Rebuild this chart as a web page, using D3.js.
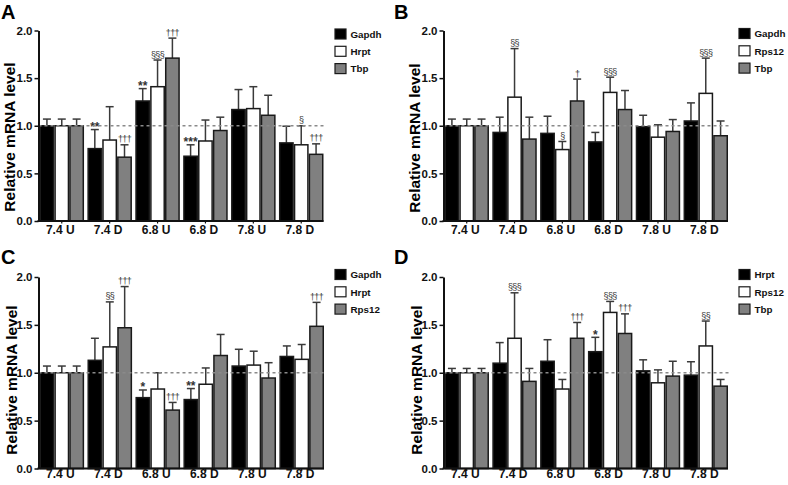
<!DOCTYPE html>
<html><head><meta charset="utf-8">
<script src="https://cdn.jsdelivr.net/npm/d3@7"></script>
<style>
body{margin:0;background:#fff;}
svg{display:block;font-family:"Liberation Sans",Arial,Helvetica,sans-serif;}
</style></head>
<body><svg id="chart" width="788" height="485"></svg>
<script>
// ---------- DATA ----------
const categories = ["7.4 U","7.4 D","6.8 U","6.8 D","7.8 U","7.8 D"];
const yTicks = [0, 0.5, 1.0, 1.5, 2.0];
const yLabel = "Relative mRNA level";

// Panel A
const aNames = ["Gapdh","Hrpt","Tbp"];
const aGapdh = [1.00, 0.76, 1.26, 0.68, 1.17, 0.82];
const aGapdhSem = [0.07, 0.20, 0.13, 0.12, 0.21, 0.175];
const aHrpt = [1.00, 0.85, 1.41, 0.84, 1.18, 0.80];
const aHrptSem = [0.07, 0.35, 0.28, 0.22, 0.23, 0.20];
const aTbp = [1.00, 0.67, 1.71, 0.95, 1.11, 0.70];
const aTbpSem = [0.07, 0.13, 0.21, 0.14, 0.21, 0.11];
const aGapdhSig = ["", "**", "**", "***", "", ""];
const aHrptSig = ["", "", "§§§", "", "", "§"];
const aTbpSig = ["", "†††", "†††", "", "", "†††"];

// Panel B
const bNames = ["Gapdh","Rps12","Tbp"];
const bGapdh = [1.00, 0.93, 0.92, 0.83, 0.99, 1.05];
const bGapdhSem = [0.07, 0.16, 0.18, 0.10, 0.12, 0.19];
const bRps12 = [1.00, 1.30, 0.75, 1.35, 0.88, 1.34];
const bRps12Sem = [0.07, 0.51, 0.085, 0.16, 0.13, 0.37];
const bTbp = [1.00, 0.86, 1.26, 1.17, 0.94, 0.895];
const bTbpSem = [0.07, 0.23, 0.23, 0.20, 0.125, 0.155];
const bGapdhSig = ["", "", "", "", "", ""];
const bRps12Sig = ["", "§§", "§", "§§§", "", "§§§"];
const bTbpSig = ["", "", "†", "", "", ""];

// Panel C
const cNames = ["Gapdh","Hrpt","Rps12"];
const cGapdh = [1.00, 1.13, 0.74, 0.72, 1.07, 1.17];
const cGapdhSem = [0.07, 0.23, 0.08, 0.115, 0.175, 0.11];
const cHrpt = [1.00, 1.27, 0.83, 0.88, 1.08, 1.14];
const cHrptSem = [0.07, 0.47, 0.17, 0.17, 0.145, 0.155];
const cRps12 = [1.00, 1.47, 0.61, 1.18, 0.945, 1.485];
const cRps12Sem = [0.07, 0.43, 0.08, 0.22, 0.16, 0.25];
const cGapdhSig = ["", "", "*", "**", "", ""];
const cHrptSig = ["", "§§", "", "", "", ""];
const cRps12Sig = ["", "†††", "†††", "", "", "†††"];

// Panel D
const dNames = ["Hrpt","Rps12","Tbp"];
const dHrpt = [1.00, 1.10, 1.12, 1.22, 1.02, 0.975];
const dHrptSem = [0.045, 0.215, 0.225, 0.15, 0.115, 0.14];
const dRps12 = [1.00, 1.36, 0.83, 1.63, 0.895, 1.28];
const dRps12Sem = [0.045, 0.475, 0.10, 0.115, 0.135, 0.26];
const dTbp = [1.00, 0.91, 1.36, 1.41, 0.965, 0.86];
const dTbpSem = [0.045, 0.135, 0.165, 0.205, 0.155, 0.07];
const dHrptSig = ["", "", "", "*", "", ""];
const dRps12Sig = ["", "§§§", "", "§§§", "", "§§"];
const dTbpSig = ["", "", "†††", "†††", "", ""];

// ---------- LAYOUT ----------
const fills = ["#000000", "#ffffff", "#808080"];
const panels = [
  {letter:"A", lx:1, ly:19, axisX:38.5, xL:39.5, xR:323.5, yTop:30.5, yBot:221, legX:335, legY:34, titleX:15, titleY:137, catY:234,
   names:aNames, means:[aGapdh,aHrpt,aTbp], sems:[aGapdhSem,aHrptSem,aTbpSem], sig:[aGapdhSig,aHrptSig,aTbpSig]},
  {letter:"B", lx:394, ly:19, axisX:443.5, xL:444.5, xR:728, yTop:30.5, yBot:221, legX:739, legY:33.5, titleX:420, titleY:138, catY:234,
   names:bNames, means:[bGapdh,bRps12,bTbp], sems:[bGapdhSem,bRps12Sem,bTbpSem], sig:[bGapdhSig,bRps12Sig,bTbpSig]},
  {letter:"C", lx:1, ly:264, axisX:38.5, xL:39.5, xR:324, yTop:277, yBot:468.5, legX:335, legY:274.5, titleX:16.5, titleY:380, catY:478,
   names:cNames, means:[cGapdh,cHrpt,cRps12], sems:[cGapdhSem,cHrptSem,cRps12Sem], sig:[cGapdhSig,cHrptSig,cRps12Sig]},
  {letter:"D", lx:394, ly:264, axisX:443.5, xL:444.5, xR:728, yTop:277, yBot:468.5, legX:739, legY:274.5, titleX:422, titleY:380, catY:478,
   names:dNames, means:[dHrpt,dRps12,dTbp], sems:[dHrptSem,dRps12Sem,dTbpSem], sig:[dHrptSig,dRps12Sig,dTbpSig]}
];

const svg = d3.select("#chart");

panels.forEach(p => {
  const g = svg.append("g");
  const y = d3.scaleLinear().domain([0, 2]).range([p.yBot, p.yTop]);
  const x0 = d3.scaleBand().domain(categories).range([p.xL, p.xR]).paddingInner(0.07).paddingOuter(0);
  const x1 = d3.scaleBand().domain(d3.range(p.names.length)).range([0, x0.bandwidth()]).padding(0);

  // panel letter
  g.append("text").attr("x", p.lx).attr("y", p.ly).attr("font-size", 20).attr("font-weight", "bold").text(p.letter);

  // y title
  g.append("text")
    .attr("transform", `translate(${p.titleX},${p.titleY}) rotate(-90)`)
    .attr("text-anchor", "middle").attr("font-size", 15.5).attr("font-weight", "bold")
    .text(yLabel);

  const data = [];
  categories.forEach((c, ci) => {
    p.names.forEach((n, si) => {
      data.push({c, si, v: p.means[si][ci], e: p.sems[si][ci], s: p.sig[si][ci]});
    });
  });

  // error bars (upper only)
  const eb = g.append("g").attr("stroke", "#3a3a3a").attr("stroke-width", 1.5).attr("fill", "none");
  data.forEach(d => {
    const cx = x0(d.c) + x1(d.si) + x1.bandwidth() / 2;
    eb.append("line").attr("x1", cx).attr("x2", cx).attr("y1", y(d.v)).attr("y2", y(d.v + d.e));
    eb.append("line").attr("x1", cx - 4).attr("x2", cx + 4).attr("y1", y(d.v + d.e)).attr("y2", y(d.v + d.e));
  });

  g.append("g").selectAll("rect").data(data).join("rect")
    .attr("x", d => x0(d.c) + x1(d.si) + 0.75)
    .attr("width", x1.bandwidth() - 1.5)
    .attr("y", d => y(d.v))
    .attr("height", d => y(0) - y(d.v))
    .attr("fill", d => fills[d.si])
    .attr("stroke", "#1a1a1a").attr("stroke-width", 1.5);

  // significance marks
  g.append("g").selectAll("text").data(data.filter(d => d.s)).join("text")
    .attr("x", d => x0(d.c) + x1(d.si) + x1.bandwidth() / 2)
    .attr("y", d => y(d.v + d.e) - (d.s[0] === "*" ? -1.5 : 2.5))
    .attr("text-anchor", "middle")
    .attr("font-size", d => d.s[0] === "*" ? 12 : 9)
    .attr("font-weight", d => d.s[0] === "*" ? "bold" : "normal")
    .attr("fill", "#333")
    .attr("letter-spacing", d => d.s[0] === "*" ? 0 : -0.6)
    .text(d => d.s);

  // dashed reference line
  g.append("line").attr("x1", p.axisX).attr("x2", p.xR + 2)
    .attr("y1", y(1)).attr("y2", y(1))
    .attr("stroke", "#8a8a8a").attr("stroke-width", 1.5).attr("stroke-dasharray", "3,3");

  // y axis
  const ya = g.append("g").attr("transform", `translate(${p.axisX},0)`)
    .call(d3.axisLeft(y).tickValues(yTicks).tickFormat(d3.format(".1f")).tickSize(4).tickSizeOuter(0).tickPadding(2));
  ya.select(".domain").attr("stroke", "#111").attr("stroke-width", 2);
  ya.selectAll(".tick line").attr("stroke", "#111").attr("stroke-width", 1.5);
  ya.selectAll(".tick text").attr("font-size", 11.5).attr("font-weight", "bold").attr("fill", "#111")
    .attr("font-family", '"Liberation Sans",Arial,sans-serif');

  // x axis
  const xa = g.append("g").attr("transform", `translate(0,${p.yBot})`)
    .call(d3.axisBottom(x0).tickSize(2.5).tickSizeOuter(0).tickPadding(3));
  xa.select(".domain").attr("stroke", "#111").attr("stroke-width", 2)
    .attr("d", `M${p.axisX - 1},0H${p.xR}`);
  xa.selectAll(".tick line").attr("stroke", "#111").attr("stroke-width", 1.2);
  xa.selectAll(".tick text").attr("font-size", 12).attr("font-weight", "bold").attr("fill", "#111")
    .attr("font-family", '"Liberation Sans",Arial,sans-serif')
    .attr("dy", null).attr("y", p.catY - p.yBot).attr("dx", -1.5);

  // legend
  const lg = g.append("g");
  p.names.forEach((n, i) => {
    const cy = p.legY + i * 17.3;
    lg.append("rect").attr("x", p.legX).attr("y", cy - 5).attr("width", 11).attr("height", 10)
      .attr("fill", fills[i]).attr("stroke", "#1a1a1a").attr("stroke-width", 1.2);
    lg.append("text").attr("x", p.legX + 15.5).attr("y", cy + 3.8).attr("font-size", 9.8).attr("font-weight", "bold")
      .attr("fill", "#111").text(n);
  });
});
</script>
</body></html>
